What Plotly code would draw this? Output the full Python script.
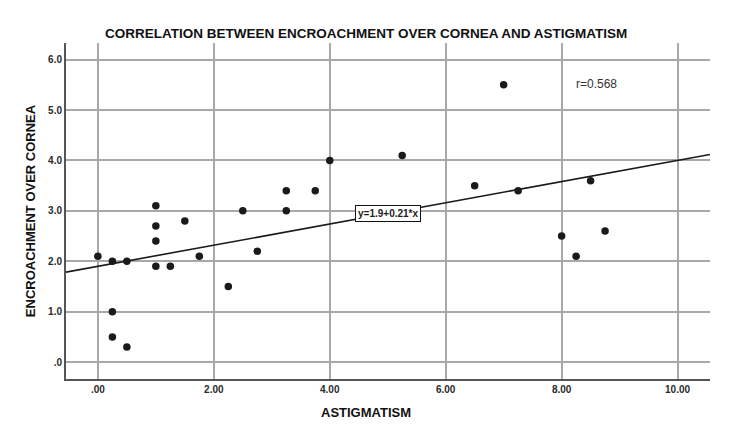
import plotly.graph_objects as go

# Data
astigmatism = [0.0, 0.25, 0.5, 1.0, 1.0, 1.0, 1.0, 1.25, 1.5, 1.75,
               2.25, 2.5, 2.75, 3.25, 3.25, 3.75, 0.25, 0.25, 0.5, 4.0,
               5.25, 7.0, 6.5, 7.25, 8.5, 8.0, 8.25, 8.75]
encroachment = [2.1, 2.0, 2.0, 3.1, 2.7, 2.4, 1.9, 1.9, 2.8, 2.1,
                1.5, 3.0, 2.2, 3.0, 3.4, 3.4, 1.0, 0.5, 0.3, 4.0,
                4.1, 5.5, 3.5, 3.4, 3.6, 2.5, 2.1, 2.6]

fit_intercept = 1.9
fit_slope = 0.21
r_value = 0.568

x_ticks = [0, 2, 4, 6, 8, 10]
x_tick_labels = [".00", "2.00", "4.00", "6.00", "8.00", "10.00"]
y_ticks = [0, 1, 2, 3, 4, 5, 6]
y_tick_labels = [".0", "1.0", "2.0", "3.0", "4.0", "5.0", "6.0"]

x_range = [-0.55, 10.56]
y_range = [-0.335, 6.33]

fit_x = x_range
fit_y = [fit_intercept + fit_slope * v for v in fit_x]

PLOT_L, PLOT_W = 66, 644
center_x = (366 - PLOT_L) / PLOT_W

fig = go.Figure()
fig.add_trace(go.Scatter(x=fit_x, y=fit_y, mode="lines",
                         line=dict(color="#1a1a1a", width=1.6),
                         hoverinfo="skip", showlegend=False))
fig.add_trace(go.Scatter(x=astigmatism, y=encroachment, mode="markers",
                         marker=dict(color="#1a1a1a", size=7.5),
                         showlegend=False))

eq_x = 5.0
fig.add_annotation(x=eq_x, y=fit_intercept + fit_slope * eq_x,
                   text=f"<b>y={fit_intercept}+{fit_slope}*x</b>", showarrow=False,
                   font=dict(family="Liberation Sans", size=10, color="#222"),
                   bgcolor="white", bordercolor="#111", borderwidth=1, borderpad=2)
fig.add_annotation(x=8.6, y=5.52, text=f"r={r_value}", showarrow=False,
                   font=dict(family="Liberation Sans", size=12, color="#333"))

fig.add_annotation(xref="paper", yref="paper", x=center_x, y=1,
                   yshift=0, yanchor="bottom",
                   text="<b>CORRELATION BETWEEN ENCROACHMENT OVER CORNEA AND ASTIGMATISM</b>",
                   showarrow=False,
                   font=dict(family="Liberation Sans", size=13.5, color="#111"))
fig.add_annotation(xref="paper", yref="paper", x=center_x, y=0,
                   yshift=-24, yanchor="top",
                   text="<b>ASTIGMATISM</b>", showarrow=False,
                   font=dict(family="Liberation Sans", size=13, color="#111"))

tick_font = dict(size=10, color="#2a2a2a", family="Liberation Sans", weight="bold")

fig.update_layout(
    width=750, height=433,
    margin=dict(l=66, r=40, t=43, b=54),
    paper_bgcolor="white", plot_bgcolor="white",
    font=dict(family="Liberation Sans", color="#333"),
    xaxis=dict(range=x_range, tickvals=x_ticks, ticktext=x_tick_labels,
               showgrid=True, gridcolor="#a8a8a8", gridwidth=1.5,
               zeroline=False, showline=True, linecolor="#555", linewidth=2,
               ticks="", tickfont=tick_font),
    yaxis=dict(range=y_range, tickvals=y_ticks, ticktext=y_tick_labels,
               showgrid=True, gridcolor="#a8a8a8", gridwidth=1.5,
               zeroline=False, showline=True, linecolor="#555", linewidth=2,
               ticks="", tickfont=tick_font,
               title=dict(text="<b>ENCROACHMENT OVER CORNEA</b>", standoff=10,
                          font=dict(size=13, color="#111", family="Liberation Sans"))),
)

fig.write_html("out.html")
